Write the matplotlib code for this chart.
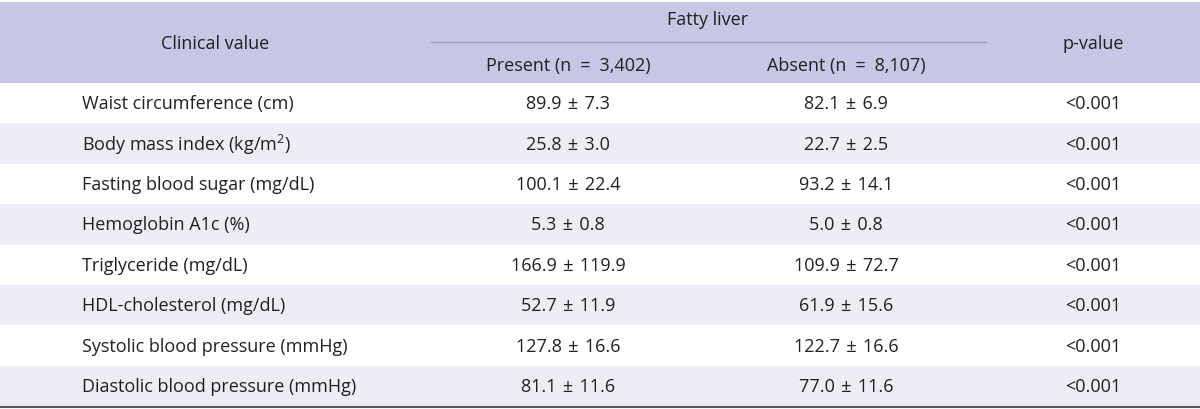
import numpy as np
import matplotlib.pyplot as plt

plt.rcParams['font.family'] = ['Open Sans', 'DejaVu Sans']
plt.rcParams['mathtext.fontset'] = 'custom'
plt.rcParams['mathtext.rm'] = 'Open Sans'
plt.rcParams['mathtext.it'] = 'Open Sans'

labels = ["Waist circumference (cm)", "Body mass index (kg/m$^2$)",
          "Fasting blood sugar (mg/dL)", "Hemoglobin A1c (%)",
          "Triglyceride (mg/dL)", "HDL-cholesterol (mg/dL)",
          "Systolic blood pressure (mmHg)", "Diastolic blood pressure (mmHg)"]
present_mean = ["89.9", "25.8", "100.1", "5.3", "166.9", "52.7", "127.8", "81.1"]
present_sd = ["7.3", "3.0", "22.4", "0.8", "119.9", "11.9", "16.6", "11.6"]
absent_mean = ["82.1", "22.7", "93.2", "5.0", "109.9", "61.9", "122.7", "77.0"]
absent_sd = ["6.9", "2.5", "14.1", "0.8", "72.7", "15.6", "16.6", "11.6"]
pvals = ["<0.001"] * 8
n_present, n_absent = "3,402", "8,107"

header_bg = '#c6c7e5'
alt_bg = '#ededf6'
txt = '#231f20'
fs = 13.0
sp = ' \u200a'    # slightly wider gap around ±
eq = '\u2002=\u2002'  # wide gap around =

# column centres (pixels)
x_label, x_clin, x_pres, x_abs, x_p = 82, 215, 568, 846, 1093

fig = plt.figure(figsize=(12, 4.1), dpi=100)
ax = fig.add_axes([0, 0, 1, 1])
ax.set_xlim(0, 1200)
ax.set_ylim(410, 0)
ax.axis('off')

# header band
top, head_bot = 3, 84
row_h = 40.4
ax.axhspan(top, head_bot, color=header_bg, lw=0)
ax.plot([431, 986], [43, 43], color='#9d9dbd', lw=1)
ax.text(x_clin, 44, "Clinical value", ha='center', va='center', fontsize=fs, color=txt)
ax.text(708, 20, "Fatty liver", ha='center', va='center', fontsize=fs, color=txt)
ax.text(x_pres, 66, f"Present (n{eq}{n_present})", ha='center', va='center', fontsize=fs, color=txt)
ax.text(x_abs, 66, f"Absent (n{eq}{n_absent})", ha='center', va='center', fontsize=fs, color=txt)
ax.text(x_p, 44, "p-value", ha='center', va='center', fontsize=fs, color=txt)

for i in range(len(labels)):
    y0 = head_bot + i * row_h
    if i % 2 == 1:
        ax.axhspan(y0, y0 + row_h, color=alt_bg, lw=0)
    yc = y0 + row_h / 2
    ax.text(x_label, yc, labels[i], ha='left', va='center', fontsize=fs, color=txt)
    ax.text(x_pres, yc, f"{present_mean[i]}{sp}±{sp}{present_sd[i]}",
            ha='center', va='center', fontsize=fs, color=txt)
    ax.text(x_abs, yc, f"{absent_mean[i]}{sp}±{sp}{absent_sd[i]}",
            ha='center', va='center', fontsize=fs, color=txt)
    ax.text(x_p, yc, pvals[i], ha='center', va='center', fontsize=fs, color=txt)

ax.plot([0, 1200], [407.5, 407.5], color='#555555', lw=1.5)

fig.savefig('out.png', dpi=100)
